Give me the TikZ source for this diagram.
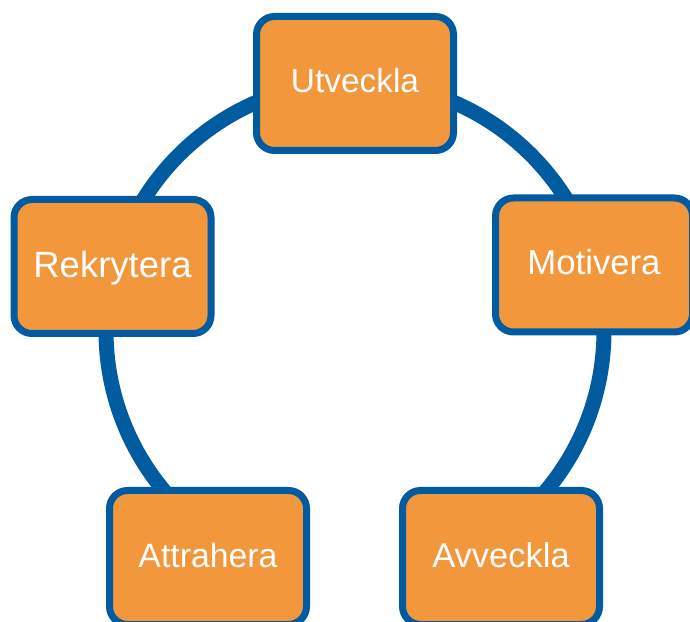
\documentclass[tikz,border=0pt]{standalone}
\usepackage{fontspec}
\setmainfont{Liberation Sans}
\definecolor{ringblue}{RGB}{0,91,160}
\definecolor{boxorange}{RGB}{242,151,60}
\tikzset{
  stagebox/.style={rectangle, rounded corners=18pt, draw=ringblue, line width=7pt,
    fill=boxorange, minimum width=197pt, minimum height=134pt, inner sep=0pt,
    text=white, text height=24pt, text depth=5pt,
    font=\fontsize{34}{40}\selectfont},
  ring/.style={draw=ringblue, line width=15pt}
}
\begin{document}
\begin{tikzpicture}[x=1pt,y=1pt]
  \useasboundingbox (0,0) rectangle (690,621);
  \clip (0,0) rectangle (690,621);
  \coordinate (c) at (355,290);
  \draw[ring] (c) ++(-50:249) arc[start angle=-50, end angle=230, radius=249];
  \node[stagebox, font=\fontsize{33.4}{40}\selectfont] (utv) at (355,537.5) {Utveckla};
  \node[stagebox, font=\fontsize{36.5}{42}\selectfont, text height=26pt, text depth=4pt] (rek) at (112.5,354.5) {Rekrytera};
  \node[stagebox, font=\fontsize{34.7}{40}\selectfont] (mot) at (594,356) {Motivera};
  \node[stagebox, font=\fontsize{33.8}{40}\selectfont] (att) at (208,63.5) {Attrahera};
  \node[stagebox, font=\fontsize{34.5}{40}\selectfont] (avv) at (501,63.5) {Avveckla};
\end{tikzpicture}
\end{document}
